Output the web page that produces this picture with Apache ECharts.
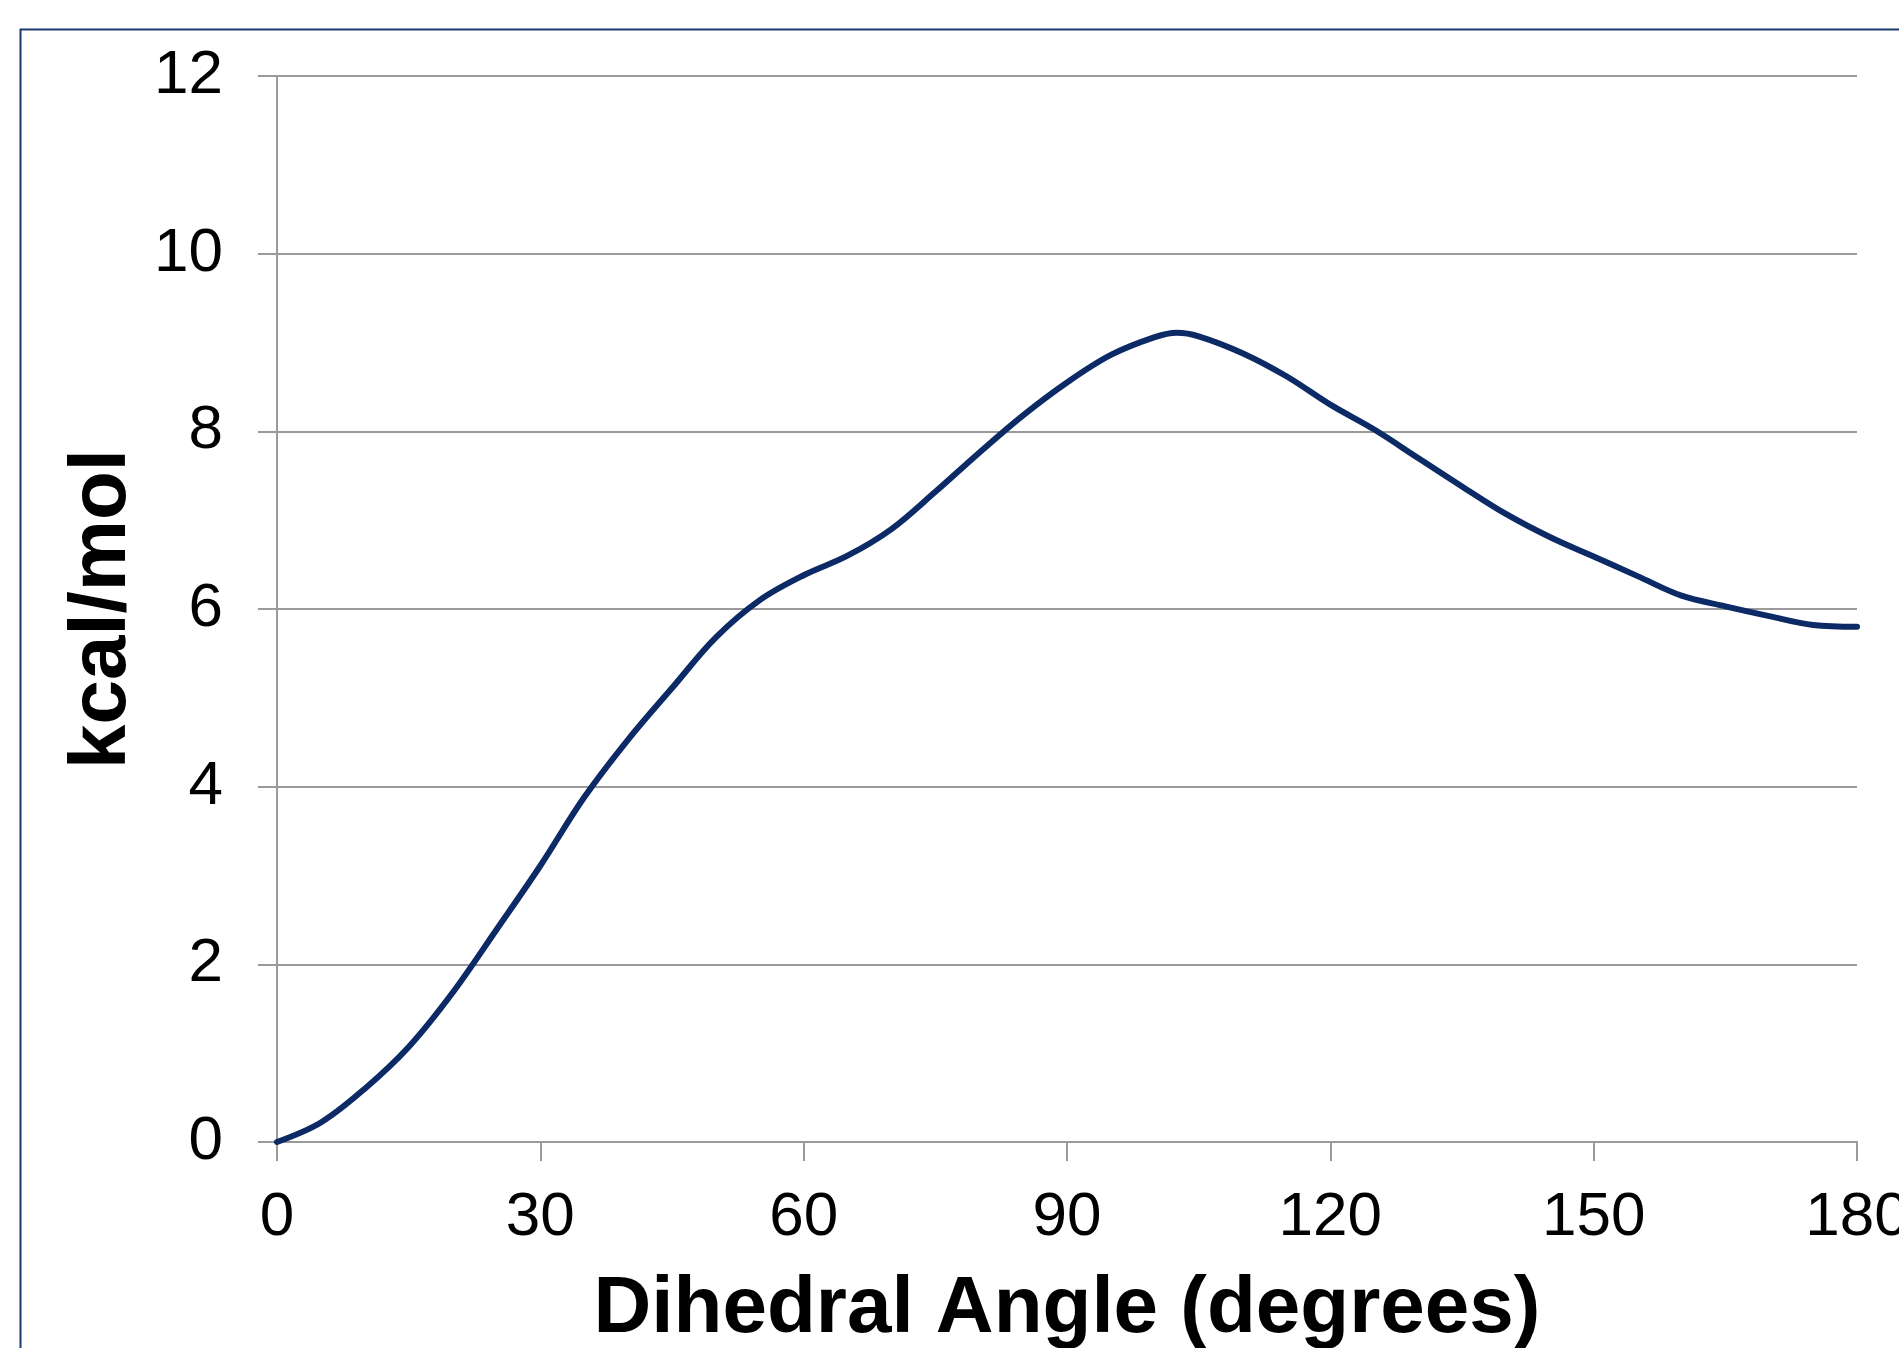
<!DOCTYPE html>
<html>
<head>
<meta charset="utf-8">
<script src="https://cdn.jsdelivr.net/npm/echarts@6/dist/echarts.min.js"></script>
<style>
html,body{margin:0;padding:0;background:#fff;overflow:hidden;}
#chart{width:1899px;height:1348px;}
</style>
</head>
<body>
<div id="chart"></div>
<script>
// Data
const angles = [0,5,10,15,20,25,30,35,40,45,50,55,60,65,70,75,80,85,90,95,100,102.5,105,110,115,120,125,130,135,140,145,150,155,160,165,170,175,180];
const energies = [0,0.22,0.6,1.07,1.68,2.39,3.11,3.88,4.53,5.11,5.68,6.1,6.38,6.6,6.9,7.32,7.76,8.18,8.55,8.86,9.06,9.11,9.07,8.88,8.62,8.3,8.02,7.7,7.38,7.07,6.81,6.59,6.37,6.15,6.03,5.92,5.82,5.80];
const xTicks = [0,30,60,90,120,150,180];
const yTicks = [0,2,4,6,8,10,12];
const xName = 'Dihedral Angle (degrees)';
const yName = 'kcal/mol';

const points = angles.map((a, i) => [a, energies[i]]);
const font = '"Liberation Sans", Arial, Helvetica, sans-serif';
const gridGray = '#9a9a9a';

const chart = echarts.init(document.getElementById('chart'), null, {renderer: 'canvas'});
chart.setOption({
  animation: false,
  backgroundColor: '#ffffff',
  graphic: [{
    type: 'rect',
    left: 18, top: 27,
    shape: {width: 1920, height: 1360},
    style: {fill: 'none', stroke: '#1c3a6e', lineWidth: 2},
    z: -10
  }],
  grid: {left: 277, right: 42, top: 76, bottom: 206, containLabel: false, outerBoundsMode: 'none'},
  xAxis: {
    type: 'value',
    min: xTicks[0], max: xTicks[xTicks.length - 1], interval: 30,
    name: xName,
    nameLocation: 'middle',
    nameGap: 128,
    nameTextStyle: {fontFamily: font, fontWeight: 'bold', fontSize: 80, color: '#000'},
    axisLine: {show: true, onZero: false, lineStyle: {color: gridGray, width: 2}},
    axisTick: {show: true, inside: false, length: 19, lineStyle: {color: gridGray, width: 2}},
    axisLabel: {fontFamily: font, fontSize: 62, color: '#000', margin: 45, hideOverlap: false, showMaxLabel: true, showMinLabel: true},
    splitLine: {show: false}
  },
  yAxis: {
    type: 'value',
    min: yTicks[0], max: yTicks[yTicks.length - 1], interval: 2,
    name: yName,
    nameLocation: 'middle',
    nameGap: 132,
    nameTextStyle: {fontFamily: font, fontWeight: 'bold', fontSize: 80, color: '#000'},
    axisLine: {show: true, lineStyle: {color: gridGray, width: 2}},
    axisTick: {show: true, inside: false, length: 19, lineStyle: {color: gridGray, width: 2}},
    axisLabel: {fontFamily: font, fontSize: 62, color: '#000', margin: 54},
    splitLine: {show: true, lineStyle: {color: gridGray, width: 2}}
  },
  series: [{
    type: 'line',
    data: points,
    smooth: 0.35,
    symbol: 'none',
    lineStyle: {color: '#0b2a66', width: 6, cap: 'round', join: 'round'},
    clip: false
  }]
});
</script>
</body>
</html>
